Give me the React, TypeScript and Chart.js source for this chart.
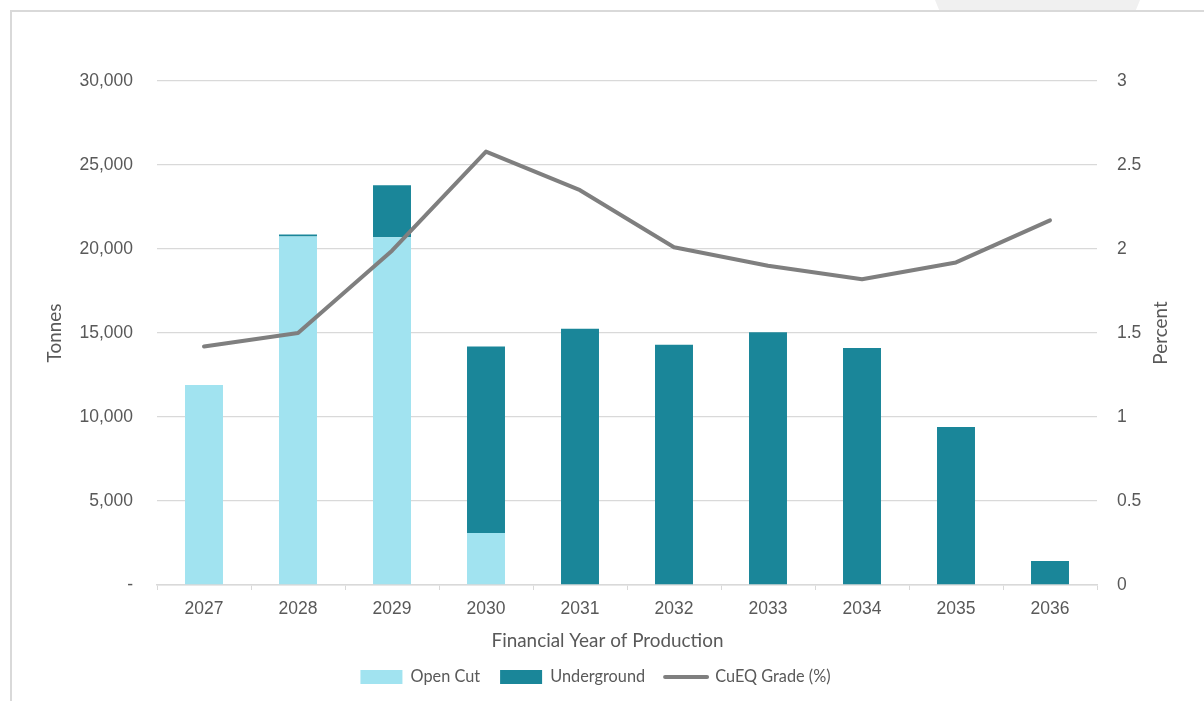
import React, { useEffect, useRef } from "react";
import { Chart, registerables } from "chart.js";

Chart.register(...registerables);

const years = ["2027", "2028", "2029", "2030", "2031", "2032", "2033", "2034", "2035", "2036"];
const openCut = [11900, 20750, 20700, 3100, 0, 0, 0, 0, 0, 0];
const underground = [0, 120, 3100, 11100, 15250, 14300, 15050, 14100, 9400, 1430];
const grade = [1.42, 1.5, 1.99, 2.58, 2.35, 2.01, 1.9, 1.82, 1.92, 2.17];

const xTitle = "Financial Year of Production";
const yTitle = "Tonnes";
const y1Title = "Percent";

const tickFont = { family: "'Liberation Sans', Arial, sans-serif", size: 17.5 };
const titleFamily = "Lato, 'Noto Sans', sans-serif";
const textColor = "#595959";
const gridColor = "#d9d9d9";

const extraTitles = {
  id: "extraTitles",
  afterDraw(chart: any) {
    const ctx = chart.ctx;
    ctx.save();
    ctx.font = `18.9px ${titleFamily}`;
    ctx.fillStyle = textColor;
    ctx.textAlign = "center";
    ctx.textBaseline = "middle";
    ctx.fillText(xTitle, 607.5, 641);
    ctx.translate(1161, 333);
    ctx.rotate(-Math.PI / 2);
    ctx.fillText(y1Title, 0, 0);
    ctx.restore();
  },
};

export default function App() {
  const ref = useRef<HTMLCanvasElement>(null);
  useEffect(() => {
    if (!ref.current) return;
    const chart = new Chart(ref.current, {
      type: "bar",
      data: {
        labels: years,
        datasets: [
          {
            type: "bar",
            label: "Open Cut",
            data: openCut,
            backgroundColor: "#a1e3f0",
            borderWidth: 0,
            yAxisID: "y",
            order: 1,
            barPercentage: 0.404,
            categoryPercentage: 1,
          },
          {
            type: "bar",
            label: "Underground",
            data: underground,
            backgroundColor: "#1a8699",
            borderWidth: 0,
            yAxisID: "y",
            order: 1,
            barPercentage: 0.404,
            categoryPercentage: 1,
          },
          {
            type: "line",
            label: "CuEQ Grade (%)",
            data: grade,
            borderColor: "#7f7f7f",
            backgroundColor: "#7f7f7f",
            borderWidth: 4,
            borderCapStyle: "round",
            borderJoinStyle: "round",
            pointRadius: 0,
            pointHoverRadius: 0,
            tension: 0,
            yAxisID: "y1",
            order: 0,
          },
        ] as any,
      },
      options: {
        responsive: false,
        animation: false,
        layout: { padding: { top: 81, left: 0, right: 13, bottom: 5.85 } },
        plugins: {
          tooltip: { enabled: false },
          legend: {
            position: "bottom",
            labels: {
              usePointStyle: true,
              pointStyleWidth: 42,
              boxHeight: 14,
              padding: 20,
              color: textColor,
              font: { family: titleFamily, size: 16.3 },
              sort: (a: any, b: any) => a.datasetIndex - b.datasetIndex,
              generateLabels: (chart: any) => {
                const items = Chart.defaults.plugins.legend.labels.generateLabels(chart);
                items.forEach((it: any) => {
                  if (it.datasetIndex === 2) {
                    it.pointStyle = "line";
                    it.lineWidth = 4;
                    it.lineCap = "round";
                    it.strokeStyle = "#7f7f7f";
                  } else {
                    it.pointStyle = "rect";
                    it.lineWidth = 0;
                  }
                });
                return items;
              },
            },
          },
        },
        scales: {
          x: {
            stacked: true,
            grid: {
              drawOnChartArea: false,
              drawTicks: true,
              tickLength: 5,
              color: gridColor,
              offset: true,
            },
            border: { display: true, color: gridColor, width: 1.5 },
            ticks: { color: textColor, font: tickFont, padding: 8.5, autoSkip: false, maxRotation: 0 },
            title: { display: false },
            afterFit: (s: any) => {
              s.height = 63.85;
            },
          },
          y: {
            stacked: true,
            position: "left",
            min: 0,
            max: 30000,
            grid: { color: gridColor, lineWidth: 1.3, drawTicks: false },
            border: { display: false },
            ticks: {
              stepSize: 5000,
              color: textColor,
              font: tickFont,
              padding: 24,
              callback: (v: any) => (Number(v) === 0 ? "-" : Number(v).toLocaleString("en-US")),
            },
            title: {
              display: true,
              text: yTitle,
              color: textColor,
              font: { family: titleFamily, size: 18.9 },
              padding: { top: 55 - 11.3, bottom: 0 },
            },
            afterFit: (s: any) => {
              s.width = 157;
            },
          },
          y1: {
            position: "right",
            min: 0,
            max: 3,
            grid: { display: false, drawTicks: false },
            border: { display: false },
            ticks: {
              stepSize: 0.5,
              color: textColor,
              font: tickFont,
              padding: 20,
              callback: (v: any) => String(v),
            },
            afterFit: (s: any) => {
              s.width = 94;
            },
          },
        },
      } as any,
      plugins: [extraTitles],
    });
    return () => chart.destroy();
  }, []);

  return (
    <div
      style={{
        position: "absolute",
        left: 0,
        top: 0,
        width: 1204,
        height: 701,
        overflow: "hidden",
        background: "#ffffff",
      }}
    >
      <div
        style={{
          position: "absolute",
          left: 935,
          top: 0,
          width: 205,
          height: 10,
          background: "#f0f0f0",
          clipPath: "polygon(0 0, 100% 0, 98% 100%, 2% 100%)",
        }}
      />
      <div
        style={{
          position: "absolute",
          left: 10,
          top: 10,
          width: 1250,
          height: 750,
          borderLeft: "2px solid #d9d9d9",
          borderTop: "2px solid #d9d9d9",
        }}
      />
      <canvas ref={ref} width={1204} height={701} style={{ position: "absolute", left: 0, top: 0 }} />
    </div>
  );
}
